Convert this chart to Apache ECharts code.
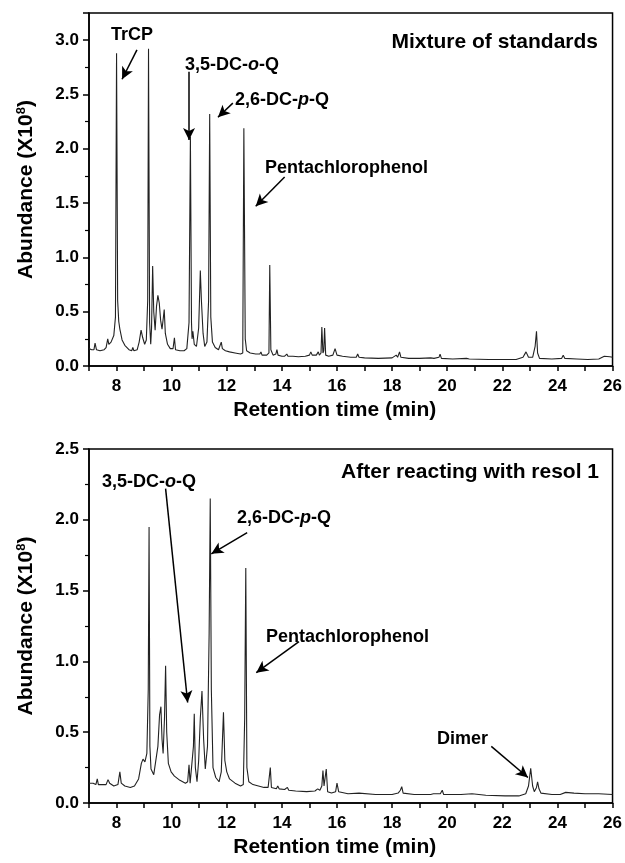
<!DOCTYPE html>
<html>
<head>
<meta charset="utf-8">
<script src="https://cdn.jsdelivr.net/npm/echarts@6/dist/echarts.min.js"></script>
<style>
html,body{margin:0;padding:0;background:#fff;}
#chart{width:625px;height:863px;}
</style>
</head>
<body>
<div id="chart"></div>
<script>
// ---- Data (retention time in min, abundance in 1e8) ----
const standardsTrace = [
[7.00,0.16],[7.10,0.15],[7.18,0.15],[7.22,0.21],[7.27,0.15],[7.40,0.14],[7.55,0.15],[7.62,0.17],[7.68,0.25],[7.72,0.20],
[7.80,0.22],[7.90,0.28],[7.96,0.45],[8.00,2.88],[8.04,0.60],[8.08,0.41],[8.12,0.34],[8.20,0.24],[8.30,0.19],[8.45,0.15],
[8.55,0.14],[8.59,0.17],[8.63,0.14],[8.75,0.15],[8.82,0.22],[8.89,0.33],[8.95,0.26],[9.02,0.20],[9.08,0.24],[9.13,0.60],
[9.16,2.92],[9.20,0.40],[9.24,0.20],[9.27,0.35],[9.31,0.92],[9.35,0.50],[9.40,0.33],[9.45,0.55],[9.50,0.65],[9.55,0.58],
[9.60,0.42],[9.65,0.34],[9.70,0.45],[9.73,0.52],[9.77,0.30],[9.85,0.20],[9.95,0.16],[10.05,0.16],[10.10,0.26],[10.14,0.15],
[10.30,0.14],[10.45,0.14],[10.55,0.16],[10.63,0.40],[10.68,2.11],[10.72,0.40],[10.74,0.25],[10.77,0.32],[10.82,0.20],[10.90,0.18],
[10.98,0.35],[11.04,0.88],[11.08,0.60],[11.14,0.30],[11.20,0.18],[11.28,0.22],[11.34,0.60],[11.38,2.32],[11.42,0.45],[11.48,0.22],
[11.58,0.17],[11.70,0.15],[11.77,0.16],[11.80,0.22],[11.84,0.16],[11.95,0.14],[12.10,0.13],[12.30,0.12],[12.50,0.11],[12.58,0.12],
[12.62,2.19],[12.67,0.25],[12.72,0.14],[12.85,0.12],[13.05,0.11],[13.20,0.11],[13.24,0.13],[13.28,0.10],[13.45,0.10],[13.53,0.12],
[13.56,0.93],[13.60,0.15],[13.68,0.10],[13.78,0.11],[13.82,0.15],[13.86,0.10],[14.00,0.09],[14.10,0.09],[14.18,0.11],[14.22,0.09],
[14.40,0.09],[14.60,0.085],[14.85,0.09],[15.00,0.10],[15.05,0.13],[15.10,0.10],[15.25,0.10],[15.32,0.13],[15.36,0.10],[15.42,0.12],
[15.45,0.36],[15.49,0.12],[15.52,0.14],[15.55,0.35],[15.59,0.10],[15.70,0.09],[15.85,0.10],[15.93,0.16],[16.00,0.10],[16.20,0.09],
[16.50,0.08],[16.70,0.08],[16.75,0.11],[16.80,0.08],[17.00,0.075],[17.50,0.07],[18.00,0.075],[18.15,0.10],[18.20,0.08],[18.27,0.13],
[18.32,0.08],[18.60,0.07],[19.00,0.07],[19.40,0.075],[19.47,0.09],[19.52,0.07],[19.70,0.08],[19.74,0.11],[19.79,0.07],[20.20,0.065],
[20.70,0.07],[20.75,0.08],[20.80,0.065],[21.50,0.06],[21.95,0.06],[22.50,0.06],[22.75,0.08],[22.86,0.13],[22.95,0.08],[23.10,0.08],
[23.19,0.18],[23.24,0.32],[23.28,0.12],[23.35,0.07],[23.80,0.065],[24.15,0.07],[24.21,0.10],[24.27,0.07],[24.70,0.065],[25.10,0.06],
[25.50,0.065],[25.70,0.09],[25.90,0.085],[26.00,0.08]
];

const resolTrace = [
[7.00,0.14],[7.15,0.14],[7.25,0.13],[7.30,0.17],[7.34,0.13],[7.50,0.13],[7.62,0.13],[7.69,0.165],[7.75,0.14],[7.90,0.12],
[8.05,0.13],[8.12,0.22],[8.17,0.14],[8.30,0.12],[8.50,0.11],[8.65,0.12],[8.72,0.13],[8.80,0.17],[8.90,0.28],[8.96,0.31],
[9.03,0.29],[9.10,0.35],[9.15,0.80],[9.18,1.95],[9.21,0.40],[9.25,0.24],[9.30,0.24],[9.35,0.20],[9.42,0.19],[9.50,0.40],
[9.56,0.62],[9.61,0.68],[9.65,0.45],[9.69,0.35],[9.74,0.60],[9.78,0.97],[9.82,0.50],[9.88,0.28],[9.98,0.22],[10.10,0.19],
[10.30,0.16],[10.50,0.14],[10.58,0.15],[10.63,0.27],[10.67,0.14],[10.72,0.15],[10.79,0.40],[10.82,0.63],[10.86,0.25],[10.92,0.15],
[10.98,0.30],[11.04,0.60],[11.10,0.79],[11.16,0.45],[11.22,0.24],[11.30,0.40],[11.36,1.20],[11.40,2.15],[11.44,0.80],[11.50,0.25],
[11.60,0.18],[11.72,0.15],[11.80,0.22],[11.88,0.64],[11.93,0.30],[12.00,0.22],[12.10,0.17],[12.30,0.14],[12.50,0.12],[12.60,0.13],
[12.65,0.60],[12.69,1.66],[12.73,0.25],[12.80,0.15],[12.95,0.13],[13.15,0.12],[13.35,0.11],[13.50,0.11],[13.58,0.25],[13.62,0.11],
[13.80,0.10],[13.85,0.12],[13.90,0.10],[14.10,0.095],[14.20,0.11],[14.25,0.09],[14.50,0.085],[14.90,0.08],[15.20,0.085],[15.30,0.10],
[15.38,0.09],[15.45,0.12],[15.49,0.23],[15.53,0.12],[15.57,0.13],[15.61,0.24],[15.66,0.08],[15.80,0.07],[15.95,0.08],[16.00,0.14],
[16.06,0.08],[16.40,0.065],[16.80,0.07],[16.83,0.08],[16.87,0.065],[17.40,0.06],[18.00,0.06],[18.22,0.07],[18.30,0.09],[18.35,0.115],
[18.40,0.07],[18.80,0.06],[19.40,0.06],[19.50,0.065],[19.55,0.06],[19.75,0.065],[19.82,0.09],[19.87,0.06],[20.50,0.06],[20.90,0.065],
[21.40,0.055],[22.10,0.05],[22.60,0.05],[22.85,0.065],[22.95,0.12],[23.03,0.245],[23.10,0.12],[23.16,0.08],[23.24,0.11],[23.28,0.15],
[23.33,0.10],[23.40,0.07],[23.80,0.06],[24.10,0.06],[24.30,0.075],[24.60,0.07],[25.00,0.065],[25.50,0.065],[26.00,0.06]
];

// annotation arrows: [fromTime, fromAbund, toTime, toAbund]
const standardsArrows = [
[8.74,2.91,8.20,2.64],
[10.63,2.71,10.63,2.08],
[12.22,2.42,11.68,2.29],
[14.10,1.74,13.05,1.47]
];
const resolArrows = [
[9.78,2.22,10.58,0.71],
[12.74,1.91,11.44,1.76],
[14.62,1.14,13.07,0.92],
[21.60,0.40,22.93,0.18]
];

const xRange = [7, 26];
const yMaxTop = 3.25;
const yMaxBottom = 2.5;
const xTitle = 'Retention time (min)';
const panelTitles = ['Mixture of standards', 'After reacting with resol 1'];

// ---- Chart ----
const FONT = '"Liberation Sans", Arial, Helvetica, sans-serif';
const chart = echarts.init(document.getElementById('chart'), null, {renderer: 'canvas'});

function arrowsToMarkLine(arr) {
  return arr.map(a => [{coord: [a[0], a[1]]}, {coord: [a[2], a[3]]}]);
}

function xAxisCfg(gridIndex) {
  return {
    type: 'value', gridIndex, min: xRange[0], max: xRange[1], interval: 1,
    axisLine: {show: true, lineStyle: {color: '#000', width: 1.5}},
    axisTick: {show: true, inside: false, length: 5, lineStyle: {color: '#000', width: 1.5}},
    minorTick: {show: false},
    axisLabel: {
      color: '#000', fontFamily: FONT, fontWeight: 'bold', fontSize: 17, margin: 12,
      formatter: v => (Math.round(v) % 2 === 0 ? String(Math.round(v)) : '')
    },
    splitLine: {show: false},
    name: xTitle, nameLocation: 'middle', nameGap: 34,
    nameTextStyle: {color: '#000', fontFamily: FONT, fontWeight: 'bold', fontSize: 21, padding: [0, 32, 0, 0]}
  };
}
function yAxisCfg(gridIndex, max) {
  return {
    type: 'value', gridIndex, min: 0, max: max, interval: 0.5,
    axisLine: {show: true, lineStyle: {color: '#000', width: 1.5}},
    axisTick: {show: true, inside: false, length: 6, lineStyle: {color: '#000', width: 1.5}},
    minorTick: {show: true, splitNumber: 2, length: 4, lineStyle: {color: '#000', width: 1.2}},
    axisLabel: {
      color: '#000', fontFamily: FONT, fontWeight: 'bold', fontSize: 17, margin: 10,
      formatter: v => (v > 3.01 ? '' : v.toFixed(1))
    },
    splitLine: {show: false},
    name: '{n|Abundance (X10}{s|8}{n|)}', nameLocation: 'middle', nameGap: 52,
    nameTextStyle: {
      rich: {
        n: {color: '#000', fontFamily: FONT, fontWeight: 'bold', fontSize: 21},
        s: {color: '#000', fontFamily: FONT, fontWeight: 'bold', fontSize: 13, verticalAlign: 'bottom', padding: [0, 0, 9, 0]}
      }
    }
  };
}

function traceSeries(data, idx, arrows) {
  return {
    type: 'line', xAxisIndex: idx, yAxisIndex: idx, data: data,
    showSymbol: false, symbol: 'none', animation: false,
    lineStyle: {color: '#222', width: 1.1},
    markLine: {
      silent: true, animation: false, symbol: ['none', 'arrow'], symbolSize: [9, 12],
      label: {show: false},
      lineStyle: {color: '#000', width: 1.5, type: 'solid'},
      emphasis: {disabled: true},
      data: arrowsToMarkLine(arrows)
    }
  };
}

const rb = {fontFamily: FONT, fontWeight: 'bold', fontSize: 18, fill: '#000', color: '#000'};
const ri = {fontFamily: FONT, fontWeight: 'bold', fontStyle: 'italic', fontSize: 18, fill: '#000', color: '#000'};
function label(text, x, y, align, size) {
  return {
    type: 'text', x: x, y: y, silent: true, z: 100,
    style: {
      text: text, align: align || 'left', verticalAlign: 'middle',
      rich: {b: Object.assign({}, rb, size ? {fontSize: size} : {}), i: ri},
      fill: '#000'
    }
  };
}

const option = {
  backgroundColor: '#fff',
  animation: false,
  grid: [
    {left: 89, top: 13, right: 12, height: 353, show: true, borderColor: '#000', borderWidth: 1.5, backgroundColor: 'transparent'},
    {left: 89, top: 449, right: 10, height: 354, show: true, borderColor: '#000', borderWidth: 1.5, backgroundColor: 'transparent'}
  ],
  xAxis: [xAxisCfg(0), xAxisCfg(1)],
  yAxis: [yAxisCfg(0, yMaxTop), yAxisCfg(1, yMaxBottom)],
  series: [
    traceSeries(standardsTrace, 0, standardsArrows),
    traceSeries(resolTrace, 1, resolArrows)
  ],
  graphic: [
    label('{b|TrCP}', 132, 35, 'center'),
    label('{b|3,5-DC-}{i|o}{b|-Q}', 232, 65, 'center'),
    label('{b|2,6-DC-}{i|p}{b|-Q}', 235, 100, 'left'),
    label('{b|Pentachlorophenol}', 265, 168, 'left'),
    label('{b|' + panelTitles[0] + '}', 598, 42, 'right', 21),
    label('{b|3,5-DC-}{i|o}{b|-Q}', 102, 482, 'left'),
    label('{b|2,6-DC-}{i|p}{b|-Q}', 237, 518, 'left'),
    label('{b|Pentachlorophenol}', 266, 637, 'left'),
    label('{b|' + panelTitles[1] + '}', 599, 472, 'right', 21),
    label('{b|Dimer}', 437, 739, 'left')
  ]
};
chart.setOption(option);
</script>
</body>
</html>
